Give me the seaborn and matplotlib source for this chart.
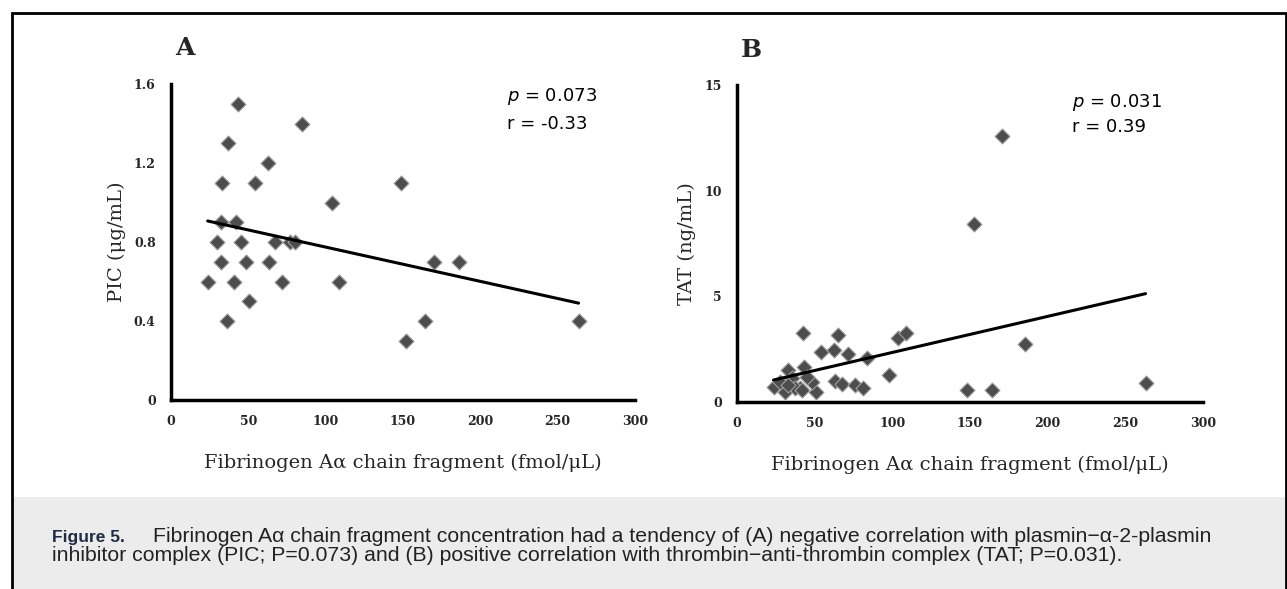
import numpy as np
import pandas as pd
import seaborn as sns
import matplotlib.pyplot as plt
from matplotlib.patches import Rectangle

# panel A: fibrinogen A-alpha fragment vs PIC
fib_a = [43.5, 84.9, 37.1, 62.9, 33.2, 54.3, 148.9, 104.1, 32.1, 41.8,
         29.5, 45.0, 67.4, 76.9, 80.4, 32.1, 48.3, 63.3, 170.0, 186.4,
         23.7, 40.9, 71.8, 108.8, 50.2, 36.4, 164.0, 263.5, 151.9]
pic = [1.5, 1.4, 1.3, 1.2, 1.1, 1.1, 1.1, 1.0, 0.9, 0.9,
       0.8, 0.8, 0.8, 0.8, 0.8, 0.7, 0.7, 0.7, 0.7, 0.7,
       0.6, 0.6, 0.6, 0.6, 0.5, 0.4, 0.4, 0.4, 0.3]

# panel B: fibrinogen A-alpha fragment vs TAT
fib_b = [170.7, 152.5, 42.6, 64.7, 103.9, 108.8, 185.7, 54.2, 62.7, 71.5,
         83.7, 97.9, 32.8, 43.3, 63.2, 67.5, 76.0, 81.0, 148.0, 163.9,
         263.0, 51.0, 23.5, 30.8, 35.3, 40.7, 48.2, 28.0, 37.5, 41.8,
         45.0, 33.0]
tat = [12.6, 8.4, 3.27, 3.16, 3.05, 3.27, 2.73, 2.37, 2.46, 2.26,
       2.06, 1.27, 1.53, 1.66, 1.0, 0.87, 0.8, 0.64, 0.56, 0.56,
       0.9, 0.47, 0.71, 0.47, 1.14, 0.64, 0.96, 0.95, 0.68, 0.55,
       1.2, 0.8]

xticks = [0, 50, 100, 150, 200, 250, 300]
yticks_a = [0, 0.4, 0.8, 1.2, 1.6]
yticks_b = [0, 5, 10, 15]
xlabel = "Fibrinogen A\u03b1 chain fragment (fmol/\u03bcL)"

df_a = pd.DataFrame({"fib": fib_a, "val": pic})
df_b = pd.DataFrame({"fib": fib_b, "val": tat})

sns.set_style("white")
plt.rcParams["font.family"] = ["DejaVu Serif"]

fig = plt.figure(figsize=(12.87, 5.89), dpi=100)

# frame and caption band
fig.patches.append(Rectangle((12 / 1287, -0.01), 1 - 12 / 1287 - 1 / 1287, 1 - 13 / 589 + 0.01,
                             transform=fig.transFigure, fill=False,
                             edgecolor="black", linewidth=2, zorder=0))
fig.patches.append(Rectangle((13 / 1287, 0), 1, 92 / 589,
                             transform=fig.transFigure, facecolor="#ececec",
                             edgecolor="none", zorder=-1))

ax_a = fig.add_axes([171 / 1287, 1 - 400 / 589, 464 / 1287, 316 / 589])
ax_b = fig.add_axes([737 / 1287, 1 - 402 / 589, 466 / 1287, 317 / 589])

panels = [
    (ax_a, df_a, yticks_a, "PIC (\u03bcg/mL)", "A", "0.073", "-0.33", 0.724, 0.959, 0.873, 1.114),
    (ax_b, df_b, yticks_b, "TAT (ng/mL)", "B", "0.031", "0.39", 0.719, 0.946, 0.867, 1.11),
]

for ax, df, yt, ylab, letter, pval, rval, tx, ty1, ty2, ly in panels:
    sns.scatterplot(data=df, x="fib", y="val", ax=ax, marker="D", s=58,
                    color="#4d4d4d", edgecolor="#a0a0a0", linewidth=0.8,
                    zorder=3)
    sns.regplot(data=df, x="fib", y="val", ax=ax, scatter=False, ci=None,
                line_kws={"color": "black", "linewidth": 2.2, "zorder": 4})
    ax.set_xlim(0, 300)
    ax.set_ylim(yt[0], yt[-1])
    ax.set_xticks(xticks)
    ax.set_yticks(yt)
    ax.set_xticklabels([str(t) for t in xticks], fontsize=9, fontweight="bold")
    ax.set_yticklabels([f"{t:g}" for t in yt], fontsize=9, fontweight="bold")
    ax.tick_params(direction="out", length=3, width=1.2, pad=8)
    for side in ["top", "right"]:
        ax.spines[side].set_visible(False)
    for side in ["left", "bottom"]:
        ax.spines[side].set_linewidth(2.5)
        ax.spines[side].set_color("black")
    ax.set_xlabel(xlabel, fontsize=14, labelpad=18)
    ax.set_ylabel(ylab, fontsize=14, labelpad=6)
    ax.text(0.03, ly, letter, transform=ax.transAxes, fontsize=18,
            fontweight="bold", ha="center", va="center")
    ax.text(tx, ty1, "$p$ = " + pval, transform=ax.transAxes, fontsize=13,
            va="center", ha="left", family="DejaVu Sans", color="black")
    ax.text(tx, ty2, "r = " + rval, transform=ax.transAxes, fontsize=13,
            va="center", ha="left", family="DejaVu Sans", color="black")

cap_font = ["Liberation Sans", "DejaVu Sans"]
fig.text(52 / 1287, 1 - 542 / 589, "Figure 5.", fontsize=12.5, fontweight="bold",
         family=cap_font, color="#1f2a44", va="baseline")
fig.text(153 / 1287, 1 - 542 / 589,
         "Fibrinogen A\u03b1 chain fragment concentration had a tendency of (A) negative "
         "correlation with plasmin\u2212\u03b1-2-plasmin",
         fontsize=15.3, family=cap_font, va="baseline", color="#222222")
fig.text(52 / 1287, 1 - 561 / 589,
         "inhibitor complex (PIC; P=0.073) and (B) positive correlation with "
         "thrombin\u2212anti-thrombin complex (TAT; P=0.031).",
         fontsize=15.3, family=cap_font, va="baseline", color="#222222")

fig.savefig("out.png", dpi=100)
